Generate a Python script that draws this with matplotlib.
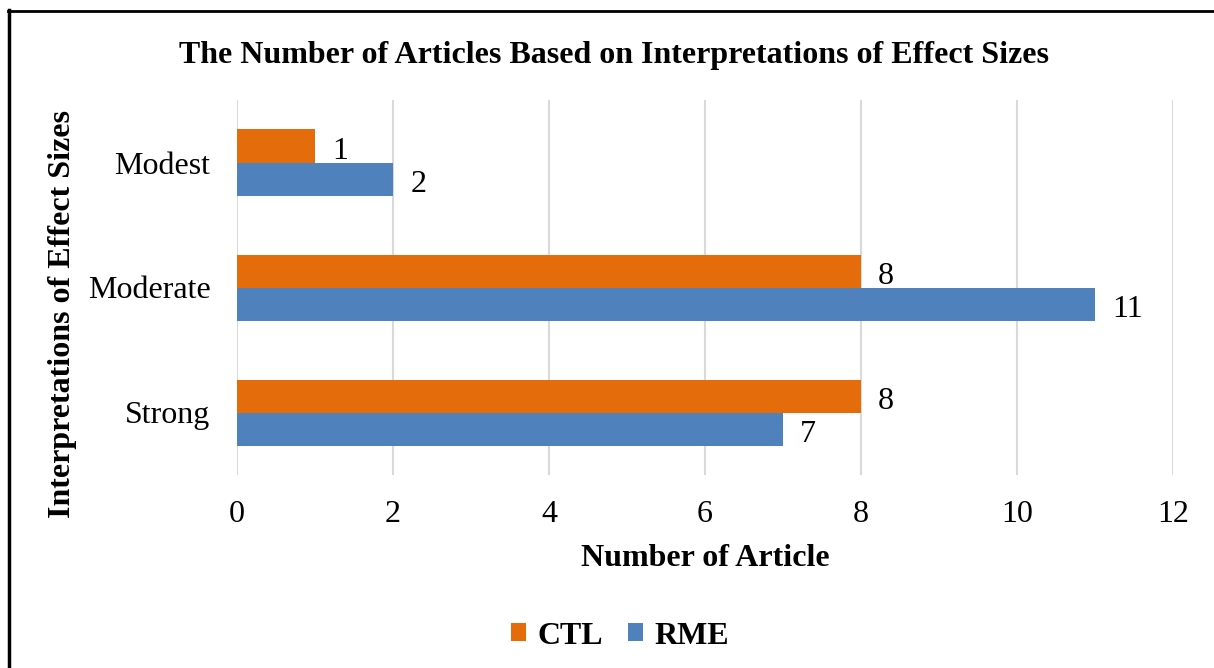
import matplotlib
matplotlib.use("Agg")
import matplotlib.pyplot as plt
from matplotlib.lines import Line2D
from matplotlib.patches import Patch
import numpy as np

categories = ["Strong", "Moderate", "Modest"]
ctl = [8, 8, 1]
rme = [7, 11, 2]
x_ticks = [0, 2, 4, 6, 8, 10, 12]

ORANGE = "#E46C0A"
BLUE = "#4F81BD"

plt.rcParams['font.family'] = ['Liberation Serif', 'DejaVu Serif']

W, H = 1214, 668
fig = plt.figure(figsize=(W / 100, H / 100), dpi=100)
ax = fig.add_axes([237 / W, 1 - 475 / H, (1173 - 237) / W, (475 - 100) / H])

y = np.arange(len(categories))
h = 0.264
b1 = ax.barh(y + h / 2, ctl, height=h, color=ORANGE, label="CTL", zorder=3)
b2 = ax.barh(y - h / 2, rme, height=h, color=BLUE, label="RME", zorder=3)

for bars, vals in ((b1, ctl), (b2, rme)):
    for bar, v in zip(bars, vals):
        ax.text(bar.get_width() + 0.22, bar.get_y() + bar.get_height() / 2 - 0.045, str(v),
                va="center", ha="left", fontsize=23)

ax.set_xlim(0, 12)
ax.set_ylim(-0.5, 2.5)
ax.set_xticks(x_ticks)
ax.set_xticklabels([str(t) for t in x_ticks], fontsize=23)
ax.set_yticks(y)
ax.set_yticklabels(categories, fontsize=23)
ax.tick_params(axis="both", length=0)
ax.tick_params(axis="x", pad=18)
ax.tick_params(axis="y", pad=19)
ax.grid(axis="x", color="#D9D9D9", linewidth=1.5, zorder=0)
ax.set_axisbelow(True)
for s in ax.spines.values():
    s.set_visible(False)

ax.set_xlabel("Number of Article", fontsize=23, fontweight="bold", labelpad=11)
fig.text(63 / W, 1 - 314 / H, "Interpretations of Effect Sizes", rotation=90,
         ha="center", va="center", fontsize=23, fontweight="bold")

fig.text(614 / W, 1 - 55 / H, "The Number of Articles Based on Interpretations of Effect Sizes",
         ha="center", va="center", fontsize=23, fontweight="bold")

handles = [Patch(facecolor=ORANGE), Patch(facecolor=BLUE)]
fig.legend(handles, ["CTL", "RME"], loc="center", bbox_to_anchor=(620 / W, 1 - 636 / H),
           ncol=2, frameon=False, prop={'size': 23, 'weight': 'bold'},
           handlelength=0.47, handleheight=0.47, handletextpad=0.35, columnspacing=0.8)

fig.add_artist(Line2D([9 / W, 9 / W], [0, 1 - 10 / H], color="black", linewidth=2.5,
                      transform=fig.transFigure))
fig.add_artist(Line2D([8 / W, 1], [1 - 10.5 / H, 1 - 10.5 / H], color="black", linewidth=2,
                      transform=fig.transFigure))

fig.savefig("out.png", dpi=100)
